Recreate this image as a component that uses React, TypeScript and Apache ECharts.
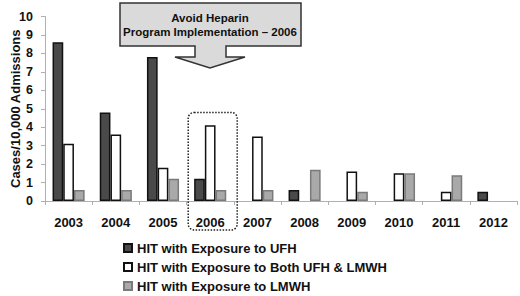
import React, { useEffect, useRef } from "react";
import * as echarts from "echarts";

const years = ["2003", "2004", "2005", "2006", "2007", "2008", "2009", "2010", "2011", "2012"];
const seriesNames = [
  "HIT with Exposure to UFH",
  "HIT with Exposure to Both UFH & LMWH",
  "HIT with Exposure to LMWH",
];
const ufh = [8.6, 4.8, 7.8, 1.2, 0, 0.6, 0, 0, 0, 0.5];
const both = [3.1, 3.6, 1.8, 4.1, 3.5, 0, 1.6, 1.5, 0.5, 0];
const lmwh = [0.6, 0.6, 1.2, 0.6, 0.6, 1.7, 0.5, 1.5, 1.4, 0];
const highlightYear = "2006";
const calloutLines = ["Avoid Heparin", "Program Implementation – 2006"];

const FONT = "'Liberation Sans', Arial, sans-serif";

export default function App() {
  const ref = useRef<HTMLDivElement>(null);
  useEffect(() => {
    if (!ref.current) return;
    const chart = echarts.init(ref.current, null, { renderer: "svg" });
    const fills = ["#4a4a4a", "#ffffff", "#a9a9a9"];
    const borders = ["#111111", "#111111", "#7a7a7a"];
    const datas = [ufh, both, lmwh];
    const legendTops = [241.5, 260.5, 279.5];
    const option: any = {
      animation: false,
      backgroundColor: "#ffffff",
      textStyle: { fontFamily: FONT },
      grid: { left: 45, right: 3, top: 16.5, bottom: 95, outerBoundsMode: "none", containLabel: false },
      legend: seriesNames.map((name, i) => ({
        orient: "vertical",
        left: 123,
        top: legendTops[i],
        padding: 0,
        itemWidth: 8,
        itemHeight: 8,
        icon: "rect",
        textStyle: { fontFamily: FONT, fontWeight: "bold", fontSize: 13, color: "#111" },
        data: [name],
      })),
      xAxis: {
        type: "category",
        data: years,
        axisLine: { lineStyle: { color: "#b0b0b0", width: 1 } },
        axisTick: { show: true, lineStyle: { color: "#b0b0b0" }, length: 4 },
        axisLabel: { fontFamily: FONT, fontWeight: "bold", fontSize: 13, color: "#111", margin: 15 },
      },
      yAxis: {
        type: "value",
        min: 0,
        max: 10,
        interval: 1,
        name: "Cases/10,000 Admissions",
        nameLocation: "middle",
        nameGap: 23,
        nameMoveOverlap: false,
        nameTextStyle: { fontFamily: FONT, fontWeight: "bold", fontSize: 13, color: "#111" },
        axisLine: { show: true, lineStyle: { color: "#b0b0b0" } },
        axisTick: { show: true, length: 4, lineStyle: { color: "#b0b0b0" } },
        splitLine: { show: false },
        axisLabel: { fontFamily: FONT, fontWeight: "bold", fontSize: 12.5, color: "#111", margin: 12 },
      },
      series: seriesNames.map((name, i) => ({
        name,
        type: "bar",
        data: datas[i].map((v) => (v === 0 ? "-" : v)),
        barGap: "0%",
        barCategoryGap: "32%",
        itemStyle: { color: fills[i], borderColor: borders[i], borderWidth: 1.5 },
      })),
    };
    chart.setOption(option);

    const cx = chart.convertToPixel({ xAxisIndex: 0 }, highlightYear) as number;
    const yTop = chart.convertToPixel({ yAxisIndex: 0 }, 4.8) as number;

    chart.setOption({
      graphic: [
        {
          type: "rect",
          shape: { x: cx - 22, y: yTop, width: 49, height: 230 - yTop, r: 6 },
          style: { fill: "none", stroke: "#222", lineWidth: 1.5, lineDash: [1.5, 1.5] },
          z: 100,
        },
        {
          type: "polygon",
          shape: {
            points: [
              [120, 3], [301, 3], [301, 46], [226, 46], [226, 57], [245, 57],
              [210, 68], [175, 57], [195, 57], [195, 46], [120, 46],
            ],
          },
          style: { fill: "#dadada", stroke: "#333", lineWidth: 1.5 },
          z: 100,
        },
        {
          type: "text",
          x: 210,
          y: 18,
          style: {
            text: calloutLines[0],
            fontFamily: FONT,
            fontWeight: "bold",
            fontSize: 11.5,
            fill: "#111",
            align: "center",
            verticalAlign: "middle",
          },
          z: 101,
        },
        {
          type: "text",
          x: 210,
          y: 32,
          style: {
            text: calloutLines[1],
            fontFamily: FONT,
            fontWeight: "bold",
            fontSize: 11.5,
            fill: "#111",
            align: "center",
            verticalAlign: "middle",
          },
          z: 101,
        },
      ],
    });
    return () => chart.dispose();
  }, []);
  return (
    <div
      ref={ref}
      style={{ position: "fixed", left: 0, top: 0, width: 520, height: 296, background: "#fff" }}
    />
  );
}
